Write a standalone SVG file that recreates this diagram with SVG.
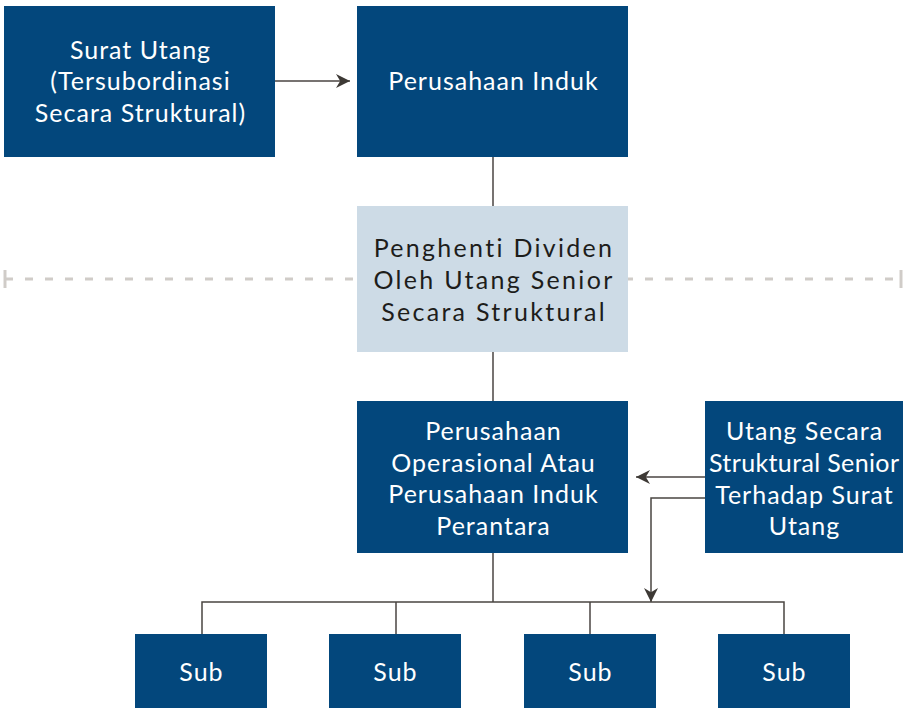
<svg xmlns="http://www.w3.org/2000/svg" width="909" height="708" viewBox="0 0 909 708">
<defs>
<style>
.box{fill:#03477c}
.lbox{fill:#cddbe6}
.t{font-family:Lato,"Open Sans","Liberation Sans",sans-serif;font-size:25px;fill:#ffffff;text-anchor:middle;letter-spacing:1px}
.td{fill:#1d1d1b;letter-spacing:2.3px}
.c{stroke:#4a4542;stroke-width:1.5;fill:none}
</style>
<marker id="ah" viewBox="0 0 10 10" refX="10" refY="5" markerWidth="14" markerHeight="14" markerUnits="userSpaceOnUse" orient="auto">
<path d="M0,0 L10,5 L0,10 L3,5 Z" fill="#3d3935"/>
</marker>
</defs>
<rect width="909" height="708" fill="#ffffff"/>
<g id="divider">
<line x1="5" y1="279" x2="901" y2="279" stroke="#d0ccc8" stroke-width="3" stroke-dasharray="8 12"/>
<line x1="5" y1="270" x2="5" y2="288" stroke="#d0ccc8" stroke-width="3"/>
<line x1="901" y1="270" x2="901" y2="288" stroke="#d0ccc8" stroke-width="3"/>
</g>
<g id="connectors">
<line class="c" x1="275" y1="81" x2="350" y2="81" marker-end="url(#ah)"/>
<line class="c" x1="493" y1="157" x2="493" y2="206"/>
<line class="c" x1="493" y1="352" x2="493" y2="401"/>
<line class="c" x1="705" y1="477" x2="636" y2="477" marker-end="url(#ah)"/>
<polyline class="c" points="705,498 651,498 651,602" marker-end="url(#ah)"/>
<line class="c" x1="493" y1="553" x2="493" y2="602"/>
<polyline class="c" points="202,634 202,602 784,602 784,634"/>
<line class="c" x1="396" y1="602" x2="396" y2="634"/>
<line class="c" x1="590" y1="602" x2="590" y2="634"/>
</g>
<g id="surat-utang">
<rect class="box" x="4" y="6" width="271" height="151"/>
<text class="t" x="140.5" y="59">Surat Utang</text>
<text class="t" x="140.5" y="90">(Tersubordinasi</text>
<text class="t" x="140.5" y="122">Secara Struktural)</text>
</g>
<g id="perusahaan-induk">
<rect class="box" x="357" y="6" width="271" height="151"/>
<text class="t" x="493.5" y="90">Perusahaan Induk</text>
</g>
<g id="penghenti">
<rect class="lbox" x="357" y="206" width="271" height="146"/>
<text class="t td" x="494" y="257">Penghenti Dividen</text>
<text class="t td" x="494" y="289">Oleh Utang Senior</text>
<text class="t td" x="494" y="321">Secara Struktural</text>
</g>
<g id="operasional">
<rect class="box" x="357" y="401" width="271" height="152"/>
<text class="t" x="493.5" y="440">Perusahaan</text>
<text class="t" x="493.5" y="472">Operasional Atau</text>
<text class="t" x="493.5" y="503">Perusahaan Induk</text>
<text class="t" x="493.5" y="535">Perantara</text>
</g>
<g id="utang-senior">
<rect class="box" x="705" y="401" width="198" height="152"/>
<text class="t" x="804.5" y="440">Utang Secara</text>
<text class="t" x="804" y="472" style="letter-spacing:0" textLength="190" lengthAdjust="spacing">Struktural Senior</text>
<text class="t" x="804.5" y="504">Terhadap Surat</text>
<text class="t" x="804.5" y="535">Utang</text>
</g>
<g id="sub1"><rect class="box" x="135" y="634" width="132" height="74"/><text class="t" x="201.5" y="681">Sub</text></g>
<g id="sub2"><rect class="box" x="329" y="634" width="132" height="74"/><text class="t" x="395.5" y="681">Sub</text></g>
<g id="sub3"><rect class="box" x="524" y="634" width="132" height="74"/><text class="t" x="590.5" y="681">Sub</text></g>
<g id="sub4"><rect class="box" x="718" y="634" width="132" height="74"/><text class="t" x="784.5" y="681">Sub</text></g>
</svg>
